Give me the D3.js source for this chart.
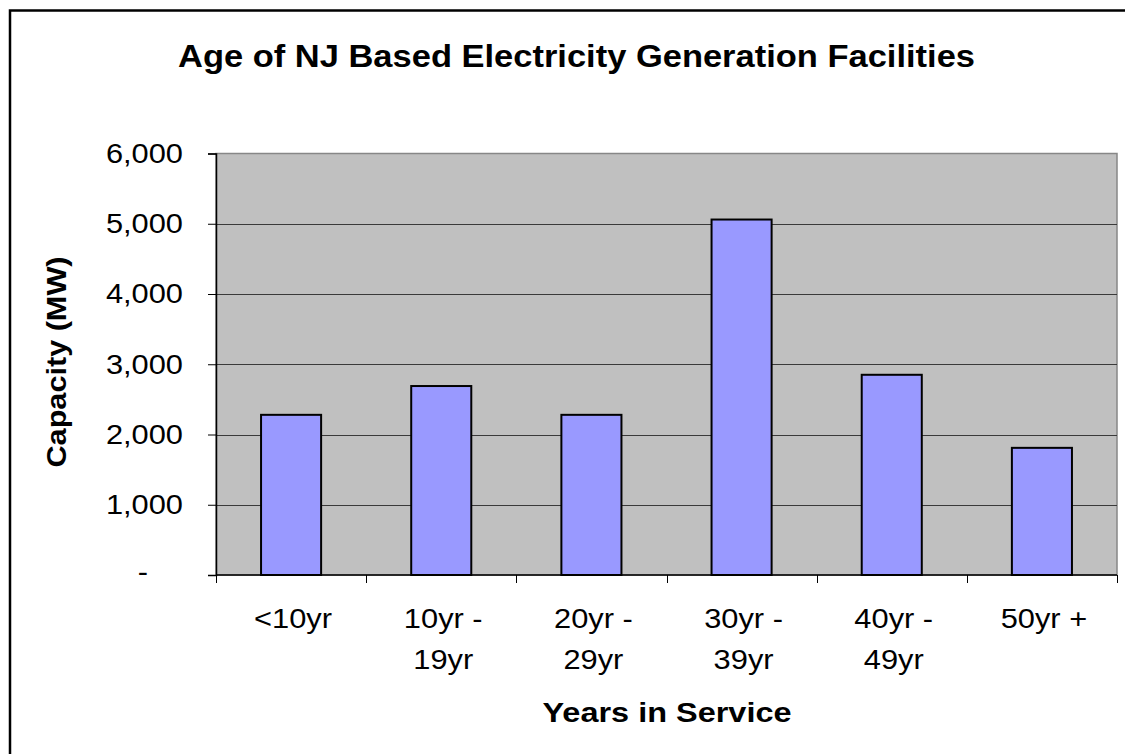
<!DOCTYPE html>
<html>
<head>
<meta charset="utf-8">
<script src="https://cdn.jsdelivr.net/npm/d3@7"></script>
<style>
  body { margin: 0; background: #fff; overflow: hidden; }
  svg { display: block; }
  text { font-family: Arial, "Liberation Sans", sans-serif; fill: #000; }
</style>
</head>
<body>
<div id="chart"></div>
<script>
// values
var categories = ["<10yr", "10yr - 19yr", "20yr - 29yr", "30yr - 39yr", "40yr - 49yr", "50yr +"];
var labelLines = [["<10yr"], ["10yr -", "19yr"], ["20yr -", "29yr"], ["30yr -", "39yr"], ["40yr -", "49yr"], ["50yr +"]];
var capacity = [2280, 2690, 2280, 5060, 2850, 1810];
var yTicks = [0, 1000, 2000, 3000, 4000, 5000, 6000];

var W = 1125, H = 754;
var plot = {left: 216, right: 1117, top: 153.5, bottom: 575};

var svg = d3.select("#chart").append("svg")
    .attr("width", W)
    .attr("height", H);

// outer chart frame (runs off the page at right/bottom)
svg.append("rect")
    .attr("x", 10).attr("y", 10.5)
    .attr("width", 1300).attr("height", 900)
    .attr("fill", "#fff")
    .attr("stroke", "#000")
    .attr("stroke-width", 2.5);

var y = d3.scaleLinear().domain([0, 6000]).range([plot.bottom, plot.top]);

// band scale for category slots (ticks at slot edges)
var xSlot = d3.scaleBand().domain(categories).range([plot.left, plot.right]).padding(0);
// bar scale: bar is 40% of the slot, centred
var xBar = d3.scaleBand().domain(categories).range([plot.left, plot.right])
    .paddingInner(0.6).paddingOuter(0.3);

// stretch text horizontally a bit, the original is a little wider than Arial
function stretch(sel, k) {
  sel.each(function() {
    var w = this.getComputedTextLength();
    d3.select(this).attr("textLength", w * k).attr("lengthAdjust", "spacingAndGlyphs");
  });
}

// plot background
svg.append("rect")
    .attr("x", plot.left).attr("y", plot.top)
    .attr("width", plot.right - plot.left)
    .attr("height", plot.bottom - plot.top)
    .attr("fill", "#c0c0c0")
    .attr("stroke", "#878787")
    .attr("stroke-width", 1.5);

// gridlines
svg.append("g")
  .selectAll("line")
  .data(yTicks.filter(function(d) { return d > 0 && d < 6000; }))
  .enter().append("line")
    .attr("x1", plot.left).attr("x2", plot.right)
    .attr("y1", function(d) { return Math.round(y(d)) + 0.5; })
    .attr("y2", function(d) { return Math.round(y(d)) + 0.5; })
    .attr("stroke", "#3a3a3a")
    .attr("stroke-width", 1);

// bars
svg.append("g")
  .selectAll("rect")
  .data(capacity)
  .enter().append("rect")
    .attr("x", function(d, i) { return xBar(categories[i]); })
    .attr("y", function(d) { return y(d); })
    .attr("width", xBar.bandwidth())
    .attr("height", function(d) { return y(0) - y(d); })
    .attr("fill", "#9999ff")
    .attr("stroke", "#000")
    .attr("stroke-width", 2);

// y axis
var yAxis = svg.append("g")
    .attr("transform", "translate(" + plot.left + ",0)")
    .call(d3.axisLeft(y).tickValues(yTicks).tickSize(8).tickPadding(25)
      .tickFormat(function(d) { return d === 0 ? "-" : d3.format(",")(d); }));
yAxis.select(".domain").attr("stroke", "#000").attr("stroke-width", 1.5);
yAxis.selectAll(".tick line").attr("stroke", "#000");
yAxis.selectAll(".tick text")
    .attr("font-size", 28)
    .attr("font-family", "Arial, 'Liberation Sans', sans-serif")
    .call(stretch, 1.1);
yAxis.selectAll(".tick").filter(function(d) { return d === 0; })
    .select("text").attr("x", -68).attr("dy", "0.2em");

// x axis
var xAxisG = svg.append("g");
xAxisG.append("line")
    .attr("x1", plot.left).attr("x2", plot.right)
    .attr("y1", plot.bottom).attr("y2", plot.bottom)
    .attr("stroke", "#000").attr("stroke-width", 1.5);
xAxisG.selectAll(".xt")
  .data(d3.range(categories.length + 1))
  .enter().append("line")
    .attr("class", "xt")
    .attr("x1", function(i) { return Math.round(i < categories.length ? xSlot(categories[i]) : plot.right) + 0.5; })
    .attr("x2", function(i) { return Math.round(i < categories.length ? xSlot(categories[i]) : plot.right) + 0.5; })
    .attr("y1", plot.bottom).attr("y2", plot.bottom + 8)
    .attr("stroke", "#000");

var xLabels = xAxisG.selectAll(".xl")
  .data(labelLines)
  .enter().append("text")
    .attr("class", "xl")
    .attr("font-size", 28)
    .attr("text-anchor", "middle");
xLabels.each(function(lines, i) {
  var cx = xSlot(categories[i]) + xSlot.bandwidth() / 2 + 2;
  d3.select(this).selectAll("tspan")
    .data(lines)
    .enter().append("tspan")
      .attr("x", cx)
      .attr("y", function(d, j) { return 628 + j * 41; })
      .text(function(d) { return d; })
      .call(stretch, 1.1);
});

// titles
svg.append("text")
    .attr("x", 576.5).attr("y", 67)
    .attr("text-anchor", "middle")
    .attr("font-size", 32)
    .attr("font-weight", "bold")
    .attr("textLength", 797)
    .attr("lengthAdjust", "spacingAndGlyphs")
    .text("Age of NJ Based Electricity Generation Facilities");

svg.append("text")
    .attr("x", 667).attr("y", 722)
    .attr("text-anchor", "middle")
    .attr("font-size", 28)
    .attr("font-weight", "bold")
    .attr("textLength", 249)
    .attr("lengthAdjust", "spacingAndGlyphs")
    .text("Years in Service");

svg.append("text")
    .attr("transform", "translate(66,362) rotate(-90)")
    .attr("text-anchor", "middle")
    .attr("font-size", 28)
    .attr("font-weight", "bold")
    .attr("textLength", 211)
    .attr("lengthAdjust", "spacingAndGlyphs")
    .text("Capacity (MW)");
</script>
</body>
</html>
